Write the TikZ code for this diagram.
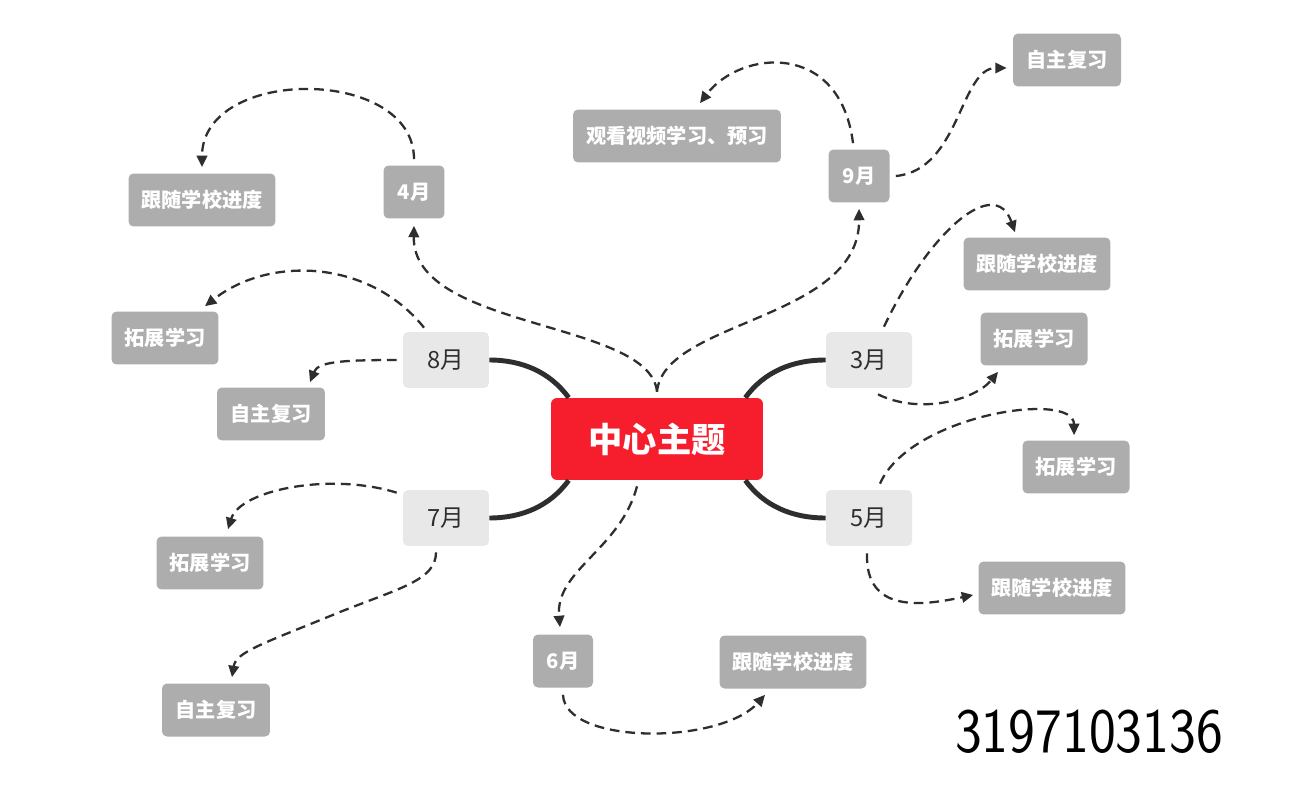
\documentclass[tikz,border=0pt]{standalone}
\usepackage{fontspec}
\newfontfamily\cjk{Noto Sans CJK SC}
\usetikzlibrary{calc,arrows.meta}
\definecolor{topicred}{HTML}{F61E2D}
\definecolor{boxgray}{HTML}{ADADAD}
\definecolor{monthgray}{HTML}{E8E8E8}
\definecolor{linedark}{HTML}{2E2E2E}
\tikzset{
  gbox/.style={fill=boxgray, rounded corners=0.1cm, text=white, inner sep=0pt,
    font=\cjk\bfseries\fontsize{11.5}{13}\selectfont, minimum height=1.06cm},
  mbox/.style={fill=monthgray, rounded corners=0.1cm, text=linedark, inner sep=0pt,
    font=\cjk\fontsize{13.5}{15}\selectfont, minimum width=1.72cm, minimum height=1.12cm},
  centerbox/.style={fill=topicred, rounded corners=0.12cm, text=white, inner sep=0pt,
    font=\cjk\bfseries\fontsize{19.5}{22}\selectfont, minimum width=4.24cm, minimum height=1.64cm},
  dar/.style={draw=linedark, line width=1.3pt, dash pattern=on 5.5pt off 3.4pt,
    -{Triangle[length=6.5pt,width=6pt]}},
  thick branch/.style={draw=linedark, line width=2.8pt}
}
\begin{document}
\begin{tikzpicture}[x=0.02cm,y=-0.02cm]
\useasboundingbox (0,0) rectangle (1295,811);
\fill[white] (0,0) rectangle (1295,811);
% central topic
\node[centerbox] (c) at (657,439) {中心主题};
% first level
\node[mbox] (m3) at (869,360) {3月};
\node[mbox] (m5) at (869,518) {5月};
\node[mbox] (m8) at (446,360) {8月};
\node[mbox] (m7) at (446,518) {7月};
\node[gbox, minimum width=1.22cm] (m4) at (414,192) {4月};
\node[gbox, minimum width=1.22cm] (m9) at (859,176) {9月};
\node[gbox, minimum width=1.2cm] (m6) at (563,661) {6月};
% leaves
\node[gbox, minimum width=4.16cm] (gW) at (677,136) {观看视频学习、预习};
\node[gbox, minimum width=2.16cm] (gZ1) at (1067,60) {自主复习};
\node[gbox, minimum width=2.94cm] (gL1) at (202,200) {跟随学校进度};
\node[gbox, minimum width=2.14cm] (gL2) at (165,338) {拓展学习};
\node[gbox, minimum width=2.16cm] (gL3) at (271,414) {自主复习};
\node[gbox, minimum width=2.94cm] (gR1) at (1037,264) {跟随学校进度};
\node[gbox, minimum width=2.14cm] (gR2) at (1034,339) {拓展学习};
\node[gbox, minimum width=2.14cm] (gR3) at (1076,467) {拓展学习};
\node[gbox, minimum width=2.94cm] (gR4) at (1052,588) {跟随学校进度};
\node[gbox, minimum width=2.14cm] (gL4) at (210,563) {拓展学习};
\node[gbox, minimum width=2.16cm] (gL5) at (216,710) {自主复习};
\node[gbox, minimum width=2.94cm] (gB) at (793,662) {跟随学校进度};
% thick branches
\draw[thick branch] ($(c.north west)+(18,0)$) .. controls (550,372) and (522,360) .. (m8.east);
\draw[thick branch] ($(c.north east)+(-18,0)$) .. controls (764,372) and (792,360) .. (m3.west);
\draw[thick branch] ($(c.south west)+(18,0)$) .. controls (550,506) and (522,518) .. (m7.east);
\draw[thick branch] ($(c.south east)+(-18,0)$) .. controls (764,506) and (792,518) .. (m5.west);
% dashed connectors
\draw[dar] ($(c.north)+(0,-6)$) .. controls (650,320) and (412,330) .. ($(m4.south)+(0,7)$);
\draw[dar] ($(c.north)+(0,-6)$) .. controls (664,320) and (860,320) .. ($(m9.south)+(0,6)$);
\draw[dar] ($(c.south)+(-20,6)$) .. controls (620,550) and (555,570) .. ($(m6.north)+(-3,-7)$);
\draw[dar] ($(m4.north)+(0,-6)$) .. controls (414,66) and (202,66) .. ($(gL1.north)+(0,-6)$);
\draw[dar] ($(m9.north)+(-6,-6)$) .. controls (840,40) and (740,50) .. ($(gW.north)+(23,-6)$);
\draw[dar] ($(m9.east)+(6,0)$) .. controls (960,170) and (960,68) .. ($(gZ1.west)+(-6,8)$);
\draw[dar] ($(m3.north)+(15,-5)$) .. controls (930,230) and (995,175) .. ($(gR1.north)+(-22,-5)$);
\draw[dar] ($(m3.south)+(9,6)$) .. controls (920,415) and (975,400) .. ($(gR2.south)+(-36,6)$);
\draw[dar] ($(m5.north)+(11,-6)$) .. controls (910,415) and (1074,390) .. ($(gR3.north)+(-2,-5)$);
\draw[dar] ($(m5.south)+(-2,7)$) .. controls (865,615) and (925,605) .. ($(gR4.west)+(-5,7)$);
\draw[dar] ($(m6.south)+(0,7)$) .. controls (565,745) and (720,745) .. ($(gB.south)+(-28,6)$);
\draw[dar] ($(m8.north)+(-22,-4)$) .. controls (370,260) and (270,255) .. ($(gL2.north)+(40,-5)$);
\draw[dar] ($(m8.west)+(-6,0)$) .. controls (340,360) and (318,362) .. ($(gL3.north)+(39,-5)$);
\draw[dar] ($(m7.north west)+(-6,3)$) .. controls (330,472) and (240,490) .. ($(gL4.north)+(18,-7)$);
\draw[dar] ($(m7.south)+(-10,6)$) .. controls (436,580) and (400,588) .. (340,612) .. controls (262,644) and (236,652) .. ($(gL5.north)+(16,-6)$);
% handwritten number
\node[text=black, font=\sffamily\fontsize{36}{36}\selectfont, xscale=0.9, inner sep=0pt] (num) at (1089,732) {3197103136};
\end{tikzpicture}
\end{document}
